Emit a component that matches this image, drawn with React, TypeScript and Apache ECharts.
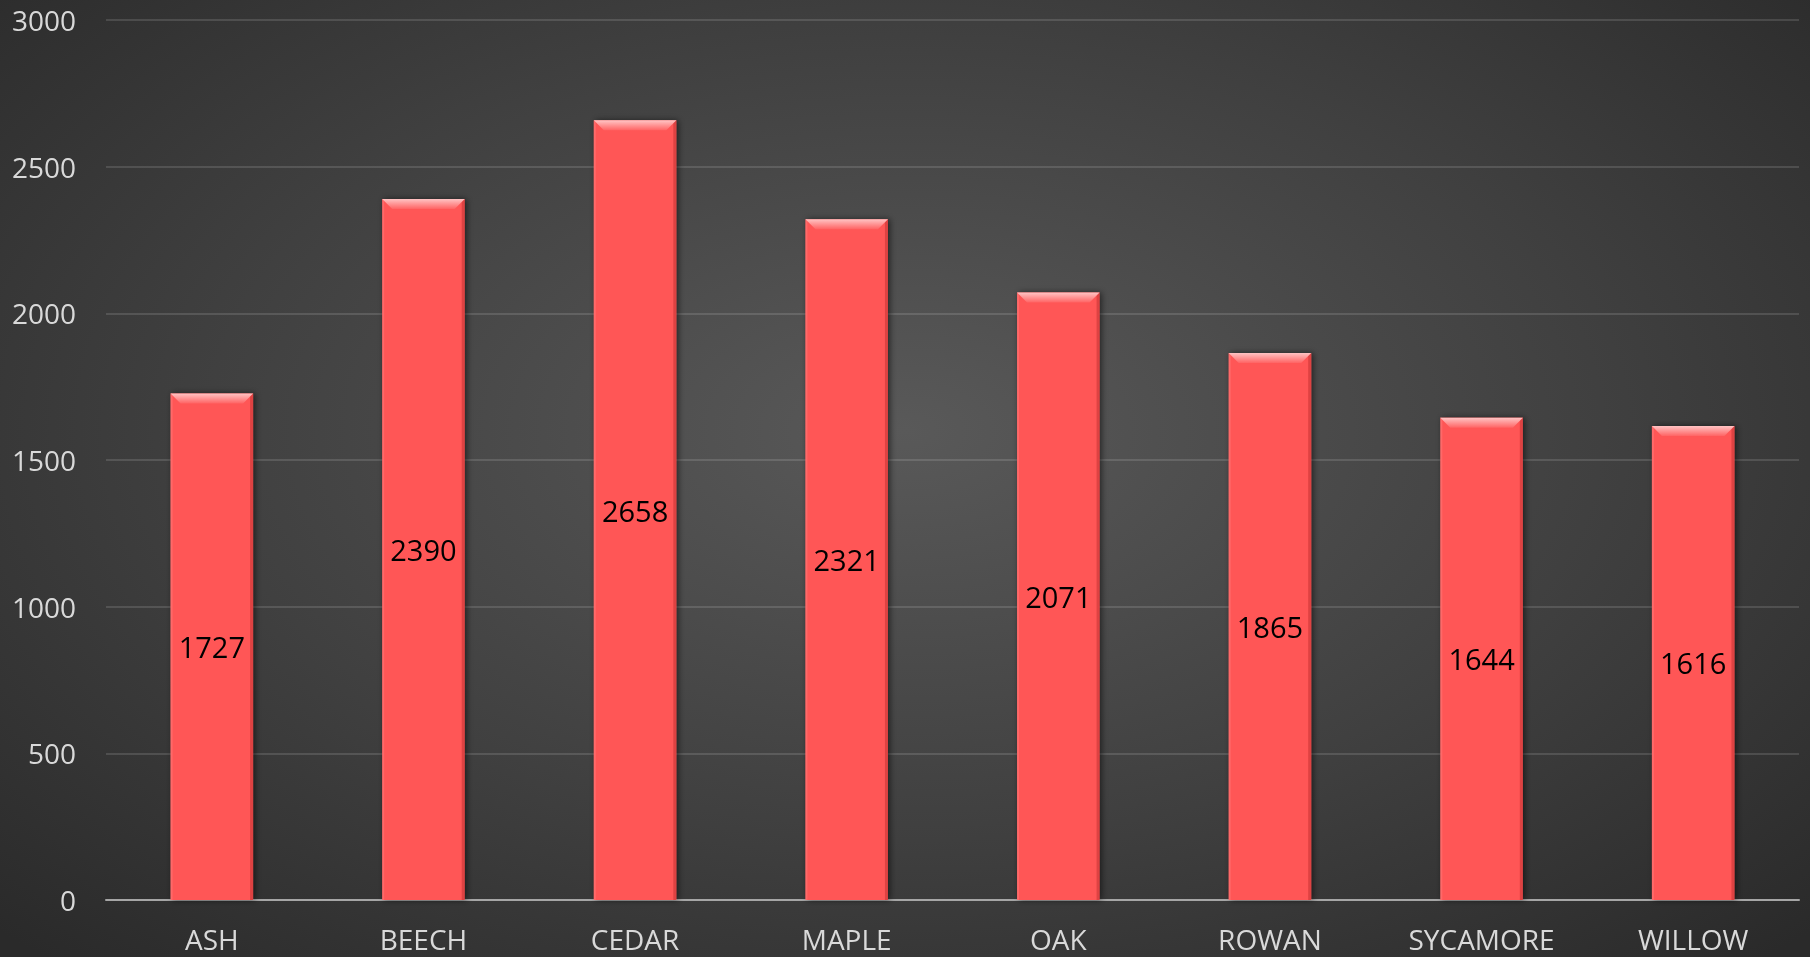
import React, { useEffect, useRef } from "react";
import * as echarts from "echarts";

const categories = ["ASH", "BEECH", "CEDAR", "MAPLE", "OAK", "ROWAN", "SYCAMORE", "WILLOW"];
const values = [1727, 2390, 2658, 2321, 2071, 1865, 1644, 1616];
const yTicks = { min: 0, max: 3000, interval: 500 };

const FONT = "'Open Sans', 'Noto Sans', sans-serif";

export default function App() {
  const ref = useRef<HTMLDivElement>(null);
  useEffect(() => {
    if (!ref.current) return;
    const chart = echarts.init(ref.current, undefined, { renderer: "svg" });
    const renderItem = (params: any, api: any) => {
      const idx = api.value(0);
      const v = api.value(1);
      const top = api.coord([idx, v]);
      const base = api.coord([idx, 0]);
      const band = api.size([1, 0])[0];
      const w = band * 0.39;
      const x0 = top[0] - w / 2;
      const x1 = top[0] + w / 2;
      const y0 = top[1];
      const y1 = base[1];
      const b = 10;
      return {
        type: "group",
        children: [
          {
            type: "rect",
            shape: { x: x0, y: y0, width: w, height: y1 - y0 },
            style: {
              fill: "#ff5656",
              shadowColor: "rgba(0,0,0,0.55)",
              shadowBlur: 6,
              shadowOffsetX: 2,
              shadowOffsetY: 0,
            },
          },
          {
            type: "rect",
            shape: { x: x1 - 3, y: y0, width: 3, height: y1 - y0 },
            style: { fill: "rgba(160,30,30,0.35)" },
          },
          {
            type: "rect",
            shape: { x: x0, y: y0, width: 2, height: y1 - y0 },
            style: { fill: "rgba(255,150,150,0.3)" },
          },
          {
            type: "polygon",
            shape: { points: [[x0, y0], [x1, y0], [x1 - b, y0 + b], [x0 + b, y0 + b]] },
            style: {
              fill: new echarts.graphic.LinearGradient(0, 0, 0, 1, [
                { offset: 0, color: "#ffc4c4" },
                { offset: 1, color: "#ff6464" },
              ]),
            },
          },
          {
            type: "text",
            style: {
              text: String(v),
              x: top[0],
              y: (y0 + y1) / 2,
              align: "center",
              verticalAlign: "middle",
              fill: "#000",
              font: `29px ${FONT}`,
            },
          },
        ],
      };
    };
    chart.setOption({
      animation: false,
      grid: { left: 106, right: 11, top: 20, bottom: 57, containLabel: false },
      xAxis: {
        type: "category",
        data: categories,
        axisLine: { show: true, lineStyle: { color: "#a6a6a6", width: 2 } },
        axisTick: { show: false },
        axisLabel: { color: "#d9d9d9", fontSize: 28, fontFamily: FONT, margin: 25 },
      },
      yAxis: {
        type: "value",
        min: yTicks.min,
        max: yTicks.max,
        interval: yTicks.interval,
        axisLine: { show: false },
        axisTick: { show: false },
        axisLabel: {
          color: "#d9d9d9",
          fontSize: 28,
          fontFamily: FONT,
          margin: 30,
          formatter: (v: number) => String(v),
        },
        splitLine: { lineStyle: { color: "rgba(255,255,255,0.13)", width: 2 } },
      },
      series: [
        {
          type: "custom",
          renderItem,
          data: values.map((v, i) => [i, v]),
          encode: { x: 0, y: 1 },
        },
      ],
    });
    return () => chart.dispose();
  }, []);
  return (
    <div
      ref={ref}
      style={{
        position: "fixed",
        left: 0,
        top: 0,
        width: 1810,
        height: 957,
        background: "radial-gradient(ellipse 70% 75% at 50% 45%, #595959 0%, #404040 55%, #2a2a2a 100%)",
      }}
    />
  );
}
